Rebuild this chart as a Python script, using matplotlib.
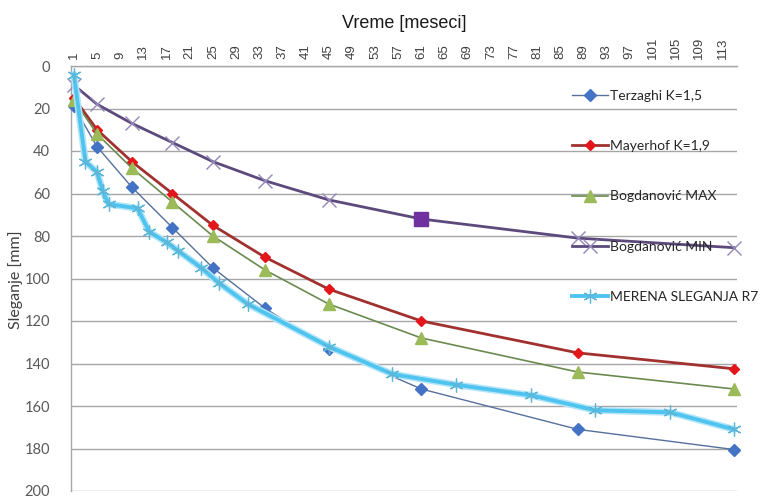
import matplotlib
matplotlib.use("Agg")
import matplotlib.pyplot as plt

# months (category positions) for the model curves
months_model = [1, 5, 11, 18, 25, 34, 45, 61, 88, 115]
terzaghi = [19, 38, 57, 76, 95, 114, 133, 152, 171, 180.5]
mayerhof = [15, 30, 45, 60, 75, 90, 105, 120, 135, 142.5]
bog_max = [16, 32, 48, 64, 80, 96, 112, 128, 144, 152]
bog_min = [9, 18, 27, 36, 45, 54, 63, 72, 81, 85.5]
min_highlight = 7  # index of the square marker (month 61)

# measured settlement R7
meas_t = [1, 3, 5, 6, 7, 12, 14, 17, 19, 23, 26, 31, 45, 56, 67, 80, 91, 104, 115]
meas = [4, 45, 50, 59, 65, 67, 78, 83, 87, 95, 102, 112, 132, 145, 150, 155, 162, 163, 171]

labels = ["Terzaghi K=1,5", "Mayerhof K=1,9", "Bogdanović MAX",
          "Bogdanović MIN", "MERENA SLEGANJA R7"]
xticks = list(range(1, 114, 4))
yticks = list(range(0, 201, 20))

fig = plt.figure(figsize=(7.63, 4.96), dpi=100)
ax = fig.add_axes([71/763, 5/496, 666/763, 425/496])

l1, = ax.plot(months_model, terzaghi, color="#566f9c", lw=1.0, marker="D", ms=6,
              mfc="#4472c4", mec="#4472c4", clip_on=False, zorder=3)
l2, = ax.plot(months_model, mayerhof, color="#a0312f", lw=2.0, marker="D", ms=5.5,
              mfc="#e3161b", mec="#e3161b", clip_on=False, zorder=3)
l3, = ax.plot(months_model, bog_max, color="#6a8a50", lw=1.2, marker="^", ms=9,
              mfc="#9bbb59", mec="#9bbb59", clip_on=False, zorder=3)
l4, = ax.plot(months_model, bog_min, color="#5c4a7d", lw=2.0, marker="x", ms=10,
              mew=1.0, mec="#9486b8", clip_on=False, zorder=3)
ax.plot(months_model[min_highlight], bog_min[min_highlight], marker="s", ms=10,
        color="#7030a0", zorder=4)
# glow under the measured line
ax.plot(meas_t, meas, color="#b3e5f8", lw=5.0, clip_on=False, zorder=4,
        solid_capstyle="round", solid_joinstyle="round")
l5, = ax.plot(meas_t, meas, color="#4fc4ef", lw=2.8, marker=(6, 2, 0), ms=10,
              mew=0.9, mec="#5cb6d8", clip_on=False, zorder=5)

ax.set_xlim(0.5, 115.5)
ax.set_ylim(200, 0)
ax.set_xticks(xticks)
ax.set_yticks(yticks)
ax.xaxis.tick_top()
ax.xaxis.set_label_position("top")
ax.tick_params(axis="x", length=0, pad=5, labelsize=9.5, labelcolor="#404040",
               labelrotation=90)
ax.tick_params(axis="y", length=0, pad=15, labelsize=10.5, labelcolor="#595959")
for lab in ax.get_xticklabels():
    lab.set_family("Liberation Sans")
for lab in ax.get_yticklabels():
    lab.set_family("Lato")

ax.grid(axis="y", color="#a6a6a6", lw=1.0)
ax.set_axisbelow(True)
for s in ["right", "bottom"]:
    ax.spines[s].set_visible(False)
for s in ["top", "left"]:
    ax.spines[s].set_color("#a6a6a6")
    ax.spines[s].set_linewidth(1.0)

ax.set_xlabel("Vreme [meseci]", fontsize=13, family="Liberation Sans",
              labelpad=6, color="#1a1a1a")
fig.text(16/763, 1 - 280/496, "Sleganje [mm]", rotation=90, ha="center",
         va="center", fontsize=11.5, family="Lato", color="#404040")

fig.legend([l1, l2, l3, l4, l5], labels, loc="upper left",
           bbox_to_anchor=(572/763, 1 - 90/496), bbox_transform=fig.transFigure,
           frameon=False, prop={"family": "Lato", "size": 10},
           handlelength=2.6, handletextpad=0.1, labelspacing=2.75,
           borderpad=0, borderaxespad=0, labelcolor="#262626")

fig.savefig("out.png", dpi=100)
